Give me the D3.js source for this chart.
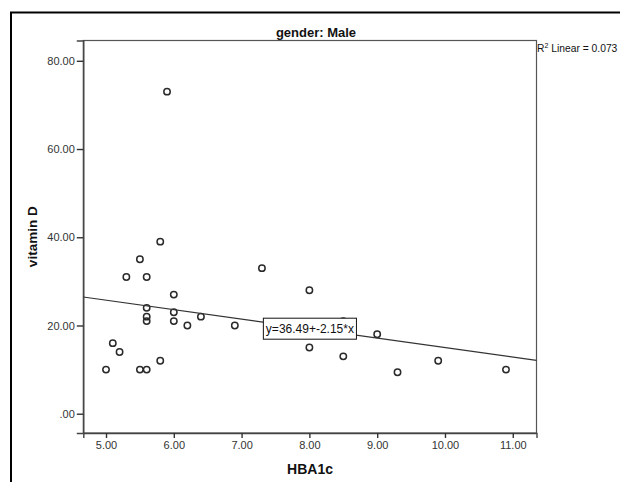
<!DOCTYPE html>
<html>
<head>
<meta charset="utf-8">
<script src="https://cdn.jsdelivr.net/npm/d3@7"></script>
<style>
  html, body { margin: 0; padding: 0; background: #fff; }
  svg { display: block; font-family: "Liberation Sans", Arial, sans-serif; }
</style>
</head>
<body>
<svg id="chart" width="620" height="482"></svg>
<script>
// HBA1c vs vitamin D, male subgroup
const hba1c    = [5.0, 5.1, 5.2, 5.3, 5.5, 5.5, 5.6, 5.6, 5.6, 5.6, 5.6, 5.8, 5.8, 5.9, 6.0, 6.0, 6.0, 6.2, 6.4, 6.9, 7.3, 8.0, 8.0, 8.5, 8.5, 9.0, 9.3, 9.9, 10.9];
const vitaminD = [10,  16,  14,  31,  35,  10,  10,  31,  24,  22,  21,  39,  12,  73,  27,  23,  21,  20,  22,  20,  33,  28,  15,  21,  13,  18,  9.4, 12,  10];

const xTicks = [5, 6, 7, 8, 9, 10, 11];
const xTickLabels = ["5.00", "6.00", "7.00", "8.00", "9.00", "10.00", "11.00"];
const yTicks = [0, 20, 40, 60, 80];
const yTickLabels = [".00", "20.00", "40.00", "60.00", "80.00"];

const fitIntercept = 36.49;
const fitSlope = -2.15;
const rSquared = "0.073";

const titleText = "gender: Male";
const xTitle = "HBA1c";
const yTitle = "vitamin D";

const svg = d3.select("#chart");
const plot = { left: 83.3, right: 536.5, top: 40.5, bottom: 433 };

const x = d3.scaleLinear().domain([4.665, 11.35]).range([plot.left, plot.right]);
const y = d3.scaleLinear().domain([-4.37, 84.6]).range([plot.bottom, plot.top]);

// outer frame
svg.append("rect")
  .attr("x", 11).attr("y", 12.5)
  .attr("width", 700).attr("height", 600)
  .attr("fill", "none").attr("stroke", "#000").attr("stroke-width", 2);

// plot frame
svg.append("rect")
  .attr("x", plot.left).attr("y", plot.top)
  .attr("width", plot.right - plot.left).attr("height", plot.bottom - plot.top)
  .attr("fill", "#fff").attr("stroke", "#555").attr("stroke-width", 1.2);

// axes
const xAxis = d3.axisBottom(x).tickValues(xTicks)
  .tickFormat((d, i) => xTickLabels[i]).tickSizeOuter(0).tickSize(5).tickPadding(3);
const yAxis = d3.axisLeft(y).tickValues(yTicks)
  .tickFormat((d, i) => yTickLabels[i]).tickSizeOuter(0).tickSize(6.5).tickPadding(2);

const gx = svg.append("g").attr("transform", `translate(0,${plot.bottom})`).call(xAxis);
const gy = svg.append("g").attr("transform", `translate(${plot.left},0)`).call(yAxis);

[gx, gy].forEach(g => {
  g.select(".domain").attr("stroke", "#444").attr("stroke-width", 1.4);
  g.selectAll(".tick line").attr("stroke", "#333").attr("stroke-width", 1.4);
  g.selectAll(".tick text")
    .attr("fill", "#333")
    .style("font-family", "'Liberation Sans', Arial, sans-serif")
    .style("font-size", "11px");
});

// points
svg.append("g").selectAll("circle")
  .data(hba1c.map((h, i) => ({ h, v: vitaminD[i] })))
  .join("circle")
  .attr("cx", d => x(d.h))
  .attr("cy", d => y(d.v))
  .attr("r", 3.2)
  .attr("fill", "none")
  .attr("stroke", "#2a2a2a")
  .attr("stroke-width", 1.5);

// fit line across the plotted x range
const [x0, x1] = x.domain();
svg.append("line")
  .attr("x1", x(x0)).attr("y1", y(fitIntercept + fitSlope * x0))
  .attr("x2", x(x1)).attr("y2", y(fitIntercept + fitSlope * x1))
  .attr("stroke", "#333").attr("stroke-width", 1.2);

// equation label, centred on the line at the middle of the plot
const xm = x.invert((plot.left + plot.right) / 2);
const lx = x(xm), ly = y(fitIntercept + fitSlope * xm);
const eq = svg.append("g").attr("transform", `translate(${lx},${ly})`);
const eqText = eq.append("text")
  .attr("text-anchor", "middle").attr("dy", "0.35em")
  .style("font-size", "12px").attr("fill", "#111")
  .text(`y=${fitIntercept}+${fitSlope}*x`);
const bb = eqText.node().getBBox();
eq.insert("rect", "text")
  .attr("x", bb.x - 2.5).attr("y", -10.5)
  .attr("width", bb.width + 5).attr("height", 21)
  .attr("fill", "#fff").attr("stroke", "#111").attr("stroke-width", 1);

// R squared note
const r2 = svg.append("text")
  .attr("x", plot.right + 0.5).attr("y", 52)
  .style("font-size", "10.3px").attr("fill", "#111");
r2.append("tspan").text("R");
r2.append("tspan").attr("dy", -4).style("font-size", "7px").text("2");
r2.append("tspan").attr("dy", 4).text(` Linear = ${rSquared}`);

// titles
svg.append("text")
  .attr("x", 316).attr("y", 37)
  .attr("text-anchor", "middle")
  .style("font-size", "13px").style("font-weight", "bold").attr("fill", "#111")
  .text(titleText);

svg.append("text")
  .attr("x", 310).attr("y", 474)
  .attr("text-anchor", "middle")
  .style("font-size", "14px").style("font-weight", "bold").attr("fill", "#111")
  .text(xTitle);

svg.append("text")
  .attr("transform", `translate(37,${(plot.top + plot.bottom) / 2}) rotate(-90)`)
  .attr("text-anchor", "middle")
  .style("font-size", "13.5px").style("font-weight", "bold").attr("fill", "#111")
  .text(yTitle);
</script>
</body>
</html>
